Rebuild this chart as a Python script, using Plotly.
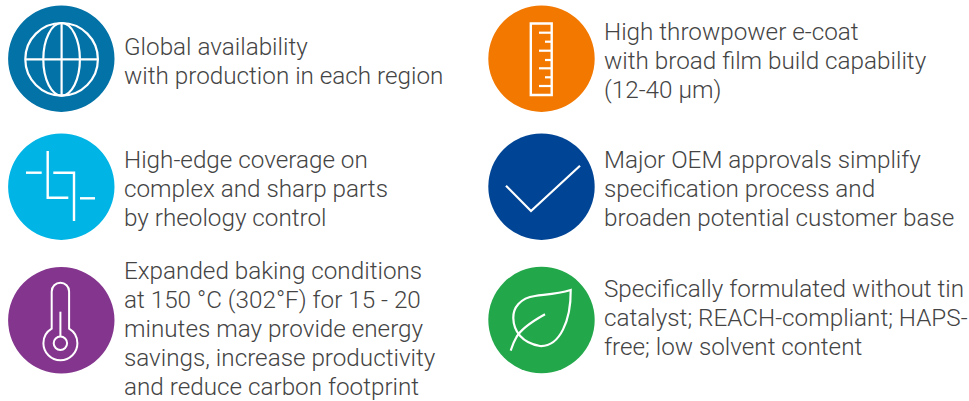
import plotly.graph_objects as go

# Content
blocks_text = [
    ["Global availability", "with production in each region"],
    ["High-edge coverage on", "complex and sharp parts", "by rheology control"],
    ["Expanded baking conditions", "at 150 °C (302°F) for 15 - 20", "minutes may provide energy", "savings, increase productivity", "and reduce carbon footprint"],
    ["High throwpower e-coat", "with broad film build capability", "(12-40 µm)"],
    ["Major OEM approvals simplify", "specification process and", "broaden potential customer base"],
    ["Specifically formulated without tin", "catalyst; REACH-compliant; HAPS-", "free; low solvent content"],
]
circle_colors = ["#0272A7", "#00B5E6", "#84368E", "#F27800", "#004595", "#22A84A"]
circle_x = [61.3, 61.3, 61.3, 541.5, 541.5, 541.5]
circle_y = [58.7, 186.7, 320.3, 58.7, 186.7, 320]
circle_r = 53.2
first_line_y = [47, 160, 271, 32, 160, 289]
text_x = [124, 124, 124, 604, 604, 604]
line_step = 29

W, H = 969, 401
TEXT = "#444444"
FONT = "Roboto, sans-serif"
shapes = []

def stroke(path, w=2.2):
    shapes.append(dict(type="path", path=path, xref="x", yref="y",
                       line=dict(color="white", width=w), fillcolor="rgba(0,0,0,0)", layer="above"))

def ring(cx, cy, rx, ry=None, w=2.2):
    ry = rx if ry is None else ry
    shapes.append(dict(type="circle", xref="x", yref="y", x0=cx - rx, x1=cx + rx, y0=cy - ry, y1=cy + ry,
                       line=dict(color="white", width=w), fillcolor="rgba(0,0,0,0)", layer="above"))

for cx, cy, col in zip(circle_x, circle_y, circle_colors):
    shapes.append(dict(type="circle", xref="x", yref="y", x0=cx - circle_r, x1=cx + circle_r,
                       y0=cy - circle_r, y1=cy + circle_r, fillcolor=col, line=dict(width=0), layer="below"))

# Globe
ring(61.6, 59.3, 36.3)
ring(61.6, 59.3, 18.3, 36.3)
stroke("M61.6,23 L61.6,95.6")
stroke("M25.3,59.3 L97.9,59.3")

# Edge coverage
stroke("M26,172.7 L41.7,172.7", 2.4)
stroke("M47.7,151 L47.7,197.7 L68.3,197.7", 2.4)
stroke("M53.3,172.7 L74,172.7 L74,221", 2.4)
stroke("M80,198.3 L95,198.3", 2.4)

# Thermometer
stroke("M51.7,328.7 L51.7,291.4 C51.7,286.6 55.6,282.7 60.4,282.7 C65.2,282.7 69.1,286.6 69.1,291.4 L69.1,328.7 "
       "C74.24,331.76 77.4,337.32 77.4,343.3 C77.4,352.69 69.79,360.3 60.4,360.3 "
       "C51.01,360.3 43.4,352.69 43.4,343.3 C43.4,337.32 46.56,331.76 51.7,328.7 Z", 2)
ring(60.4, 343.3, 6.7, w=2)
stroke("M60.4,311.7 L60.4,336.6", 2)

# Ruler
stroke("M530.8,23.5 L551.7,23.5 L551.7,95 L530.8,95 Z", 2.4)
for ty, tx in [(32.7, 539), (41.7, 545), (50.7, 539), (60, 545), (68.3, 539), (77.3, 545), (86, 539)]:
    stroke(f"M{tx},{ty} L551.7,{ty}", 2.2)

# Check
stroke("M506,185.7 L531,211 L580,165.7", 2.2)

# Leaf
stroke("M570.7,290 C557,294 545,294.5 535,296 C520,298 513,308 513.3,318 C513.5,331 522,343 540,346 C560,347 571,320 570.7,290 Z", 2.2)
stroke("M545,314.3 C533,321 520,330 516,338 C513,343 512,347 510.7,350.7", 2.2)

annotations = []
for lines, x0, y0 in zip(blocks_text, text_x, first_line_y):
    for i, line in enumerate(lines):
        annotations.append(dict(x=x0, y=y0 + i * line_step, xref="x", yref="y", text=line, showarrow=False,
                                xanchor="left", yanchor="middle", xshift=-2, align="left",
                                font=dict(family=FONT, size=24.25, color=TEXT, weight=300)))

fig = go.Figure()
fig.add_trace(go.Scatter(x=[0, W], y=[0, H], mode="markers", marker=dict(opacity=0), hoverinfo="skip", showlegend=False))
fig.update_layout(width=W, height=H, margin=dict(l=0, r=0, t=0, b=0), paper_bgcolor="white", plot_bgcolor="white",
                  xaxis=dict(range=[0, W], visible=False, fixedrange=True),
                  yaxis=dict(range=[H, 0], visible=False, fixedrange=True),
                  shapes=shapes, annotations=annotations, showlegend=False)
fig.write_html("out.html", config={"displayModeBar": False},
               post_script="document.body.style.margin='0';document.body.style.overflow='hidden';")
